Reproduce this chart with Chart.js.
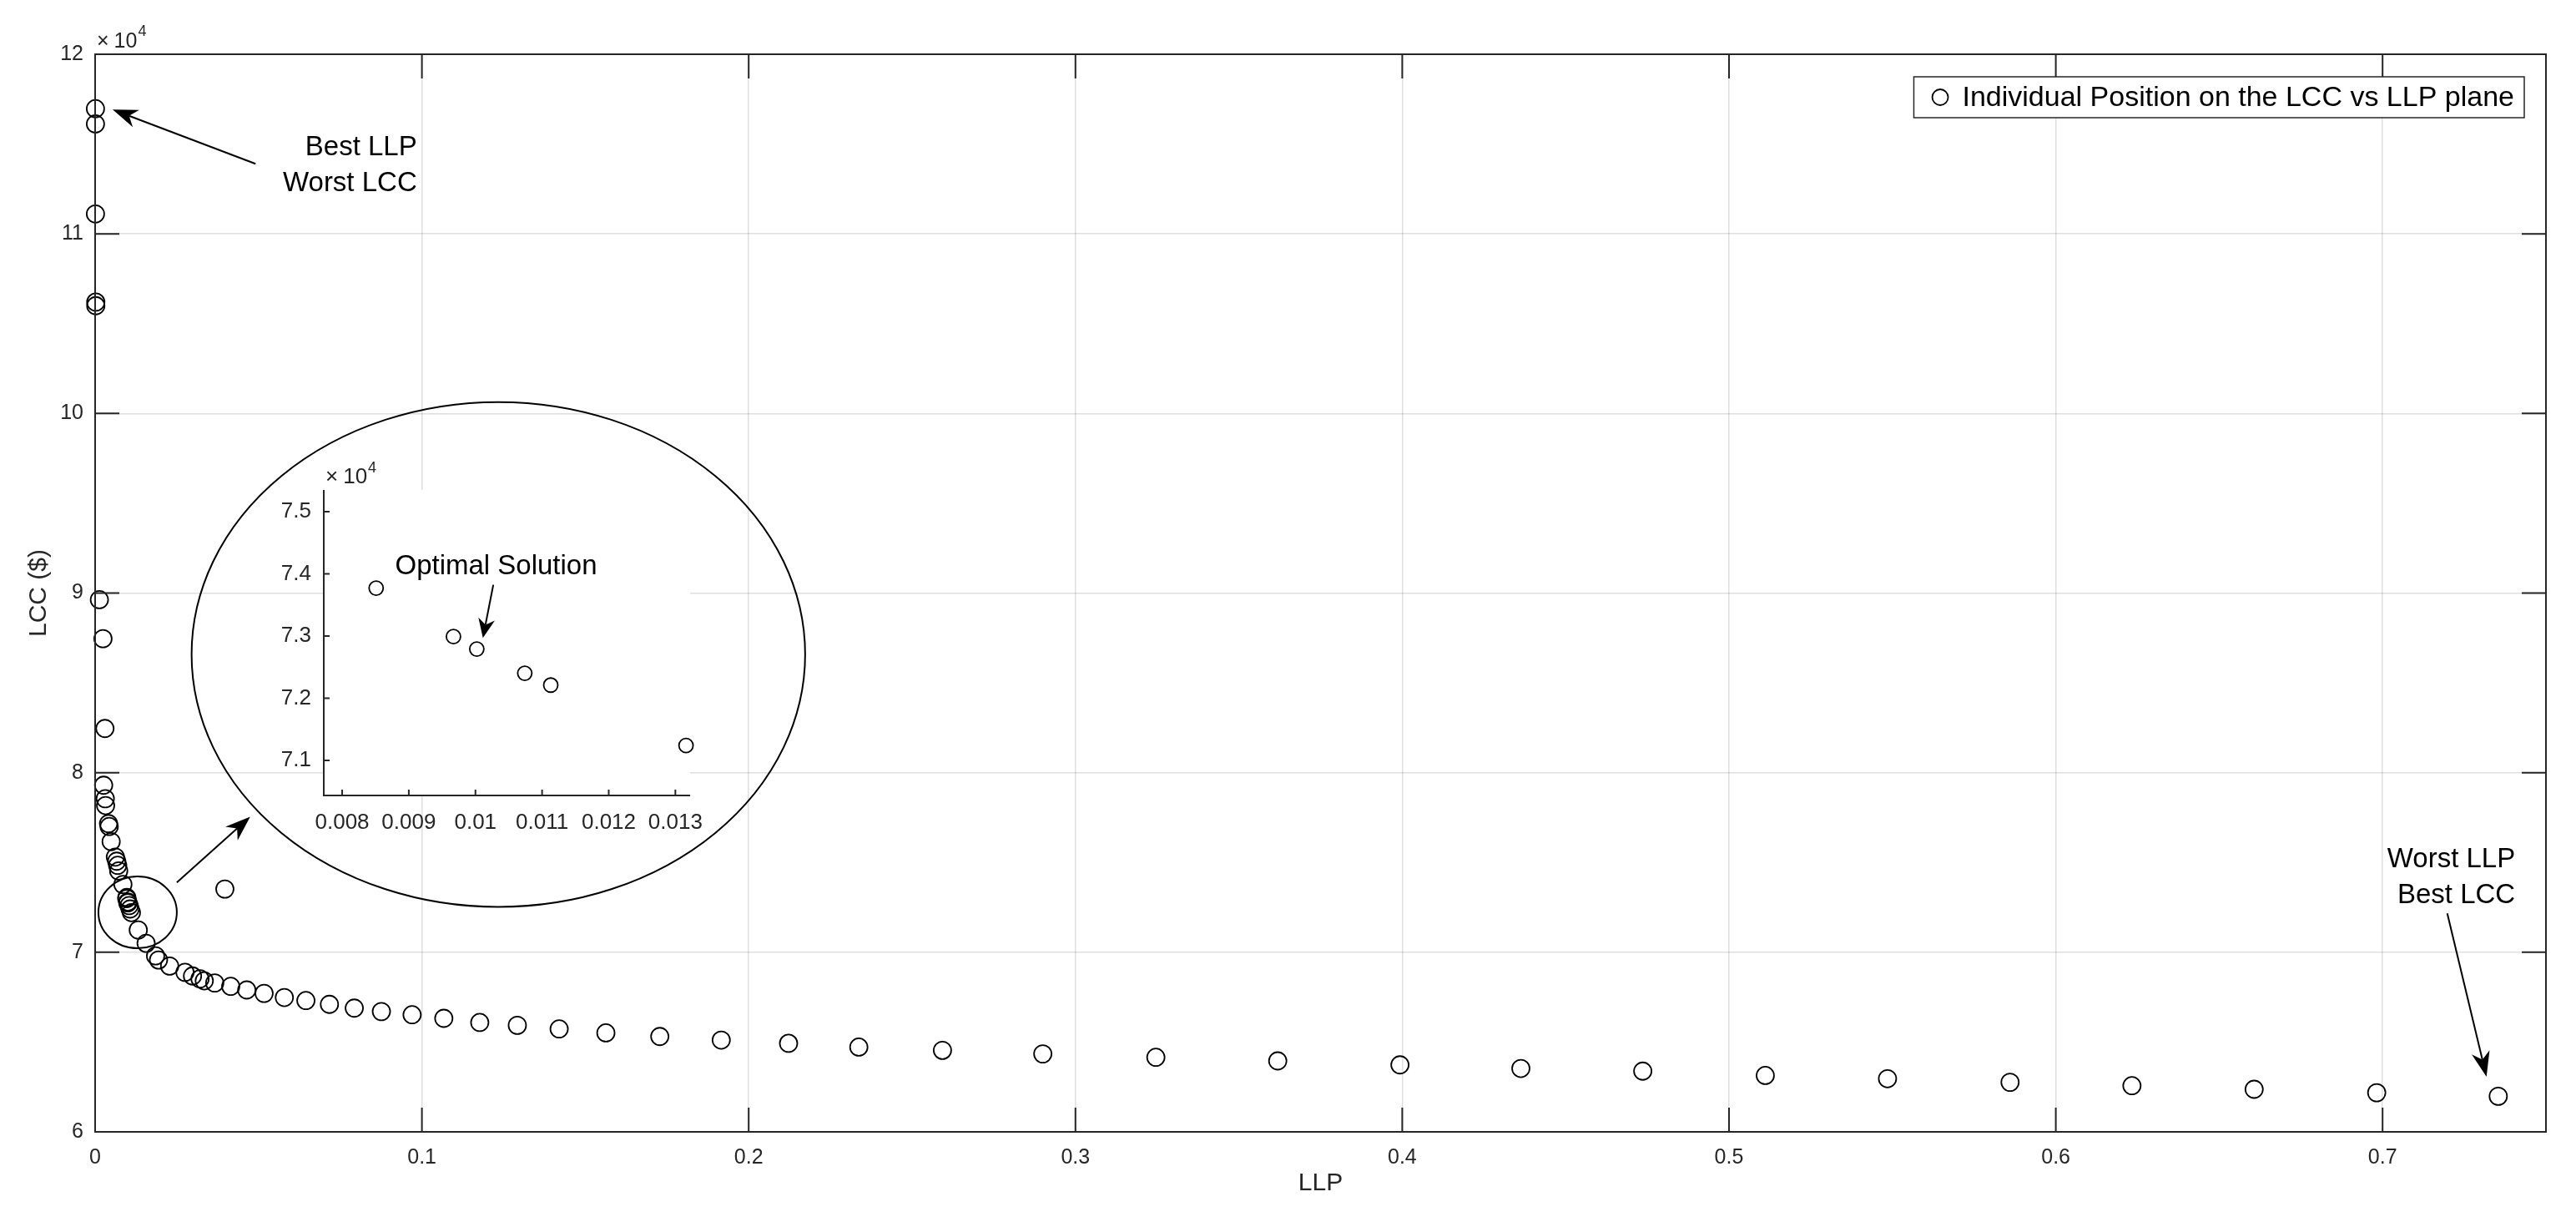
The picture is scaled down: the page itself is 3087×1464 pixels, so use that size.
<!DOCTYPE html>
<html>
<head>
<meta charset="utf-8">
<script src="https://cdn.jsdelivr.net/npm/chart.js@4.4.0/dist/chart.umd.min.js"></script>
<style>
  html, body { margin: 0; padding: 0; background: #fff; }
  #wrap { position: relative; width: 3087px; height: 1464px; }
  #main { position: absolute; left: 0; top: 0; }
  #inset { position: absolute; left: 300px; top: 520px; }
</style>
</head>
<body>
<div id="wrap">
  <canvas id="main" width="3087" height="1464"></canvas>
  <canvas id="inset" width="560" height="480"></canvas>
</div>
<script>
// every individual of the population: LLP and LCC ($)
const llp = [
  0.0001, 0.0001, 0.0001, 0.0002, 0.0002,
  0.0013, 0.0024, 0.0030,
  0.0026, 0.0031, 0.0032, 0.0041, 0.0043, 0.0049,
  0.0062, 0.0066, 0.0069, 0.0072,
  0.0085, 0.0097, 0.0100, 0.0107, 0.0111, 0.0097, 0.0100, 0.0104, 0.0132,
  0.0156, 0.0185, 0.0194, 0.0228, 0.0275, 0.0298, 0.0321, 0.0334, 0.0366, 0.0397,
  0.0415, 0.0464, 0.0517, 0.0579, 0.0645, 0.0717, 0.0793, 0.0876, 0.0970, 0.1067,
  0.1177, 0.1292, 0.1420, 0.1563, 0.1728, 0.1916, 0.2122, 0.2337, 0.2593, 0.2900,
  0.3246, 0.3619, 0.3993, 0.4363, 0.4736, 0.5111, 0.5485, 0.5860, 0.6233, 0.6607, 0.6982, 0.7354
];
const lcc = [
  116970, 116120, 111110, 106200, 106000,
  89630, 87460, 82460,
  79300, 78550, 78170, 77160, 77000, 76160,
  75300, 75070, 74840, 74530,
  73775, 72990, 72800, 72410, 72210, 73050, 72750, 72600, 71240,
  70500, 69800, 69570, 69230, 68880, 68680, 68520, 68410, 68290, 73520,
  68100, 67900, 67710, 67480, 67310, 67100, 66890, 66700, 66520, 66320,
  66090, 65930, 65730, 65510, 65310, 65110, 64930, 64720, 64540, 64340,
  64150, 63950, 63730, 63530, 63380, 63140, 62960, 62760, 62570, 62370, 62180, 61980
];

// zoomed view around the optimal solution
const insetLlp = [0.00851, 0.00967, 0.01002, 0.01074, 0.01113, 0.01316];
const insetLcc = [73770, 72990, 72790, 72400, 72210, 71240];

const xTickVals = [0, 0.1, 0.2, 0.3, 0.4, 0.5, 0.6, 0.7];
const xTickLabels = ['0', '0.1', '0.2', '0.3', '0.4', '0.5', '0.6', '0.7'];
const yTickVals = [60000, 70000, 80000, 90000, 100000, 110000, 120000];
const yTickLabels = ['6', '7', '8', '9', '10', '11', '12'];
const insetXTickVals = [0.008, 0.009, 0.010, 0.011, 0.012, 0.013];
const insetXTickLabels = ['0.008', '0.009', '0.01', '0.011', '0.012', '0.013'];
const insetYTickVals = [71000, 72000, 73000, 74000, 75000];
const insetYTickLabels = ['7.1', '7.2', '7.3', '7.4', '7.5'];

const seriesLabel = 'Individual Position on the LCC vs LLP plane';

const INK = '#262626';
const GRID = 'rgba(38,38,38,0.15)';
const FONT = '"Liberation Sans", Arial, Helvetica, sans-serif';

// annotation anchors, in data units
const mainNotes = {
  texts: [
    { text: 'Best LLP', x: 0.0985, y: 114790 },
    { text: 'Worst LCC', x: 0.0985, y: 112790 },
    { text: 'Worst LLP', x: 0.7406, y: 75150 },
    { text: 'Best LCC', x: 0.7406, y: 73140 }
  ],
  arrows: [
    { from: [0.0491, 113900], to: [0.00536, 116920] },
    { from: [0.0250, 73890], to: [0.04745, 77540] },
    { from: [0.7198, 72170], to: [0.7318, 63070] }
  ],
  ellipses: [
    { cx: 0.1234, cy: 86580, rx: 0.09388, ry: 14057 },
    { cx: 0.0130, cy: 72220, rx: 0.0120, ry: 1998 }
  ]
};
const insetNotes = {
  text: { text: 'Optimal Solution', x: 0.010310, y: 74111 },
  arrow: { from: [0.010268, 73822], to: [0.010112, 72969] }
};

function drawArrow(ctx, x0, y0, x1, y1, len, half) {
  const a = Math.atan2(y1 - y0, x1 - x0);
  const c = Math.cos(a), s = Math.sin(a);
  const notch = len * 0.3;
  ctx.beginPath();
  ctx.moveTo(x0, y0);
  ctx.lineTo(x1 - c * (len - notch), y1 - s * (len - notch));
  ctx.stroke();
  const bx = x1 - c * len, by = y1 - s * len;
  ctx.beginPath();
  ctx.moveTo(x1, y1);
  ctx.lineTo(bx - s * half, by + c * half);
  ctx.lineTo(x1 - c * (len - notch), y1 - s * (len - notch));
  ctx.lineTo(bx + s * half, by - c * half);
  ctx.closePath();
  ctx.fill();
}

function drawExponent(ctx, left, top, size, dy, supDy) {
  ctx.save();
  ctx.fillStyle = INK;
  ctx.textAlign = 'left';
  ctx.textBaseline = 'alphabetic';
  ctx.font = `${size}px ${FONT}`;
  let cx = left + 2;
  ctx.fillText('\u00d7', cx, top - dy);
  cx += ctx.measureText('\u00d7').width + 6;
  ctx.fillText('10', cx, top - dy);
  cx += ctx.measureText('10').width + 1;
  ctx.font = `${Math.round(size * 0.7)}px ${FONT}`;
  ctx.fillText('4', cx, top - supDy);
  ctx.restore();
}

// MATLAB-like frame: inward ticks, full box or left/bottom only
function frame(len, box) {
  return {
    id: 'frame',
    afterDatasetsDraw(chart) {
      const { ctx, chartArea: a, scales: { x, y } } = chart;
      ctx.save();
      ctx.strokeStyle = INK;
      ctx.lineWidth = 2;
      ctx.beginPath();
      x.ticks.forEach(t => {
        const px = x.getPixelForValue(t.value);
        ctx.moveTo(px, a.bottom); ctx.lineTo(px, a.bottom - len);
        if (box) { ctx.moveTo(px, a.top); ctx.lineTo(px, a.top + len); }
      });
      y.ticks.forEach(t => {
        const py = y.getPixelForValue(t.value);
        ctx.moveTo(a.left, py); ctx.lineTo(a.left + len, py);
        if (box) { ctx.moveTo(a.right, py); ctx.lineTo(a.right - len, py); }
      });
      ctx.stroke();
      ctx.beginPath();
      if (box) {
        ctx.rect(a.left, a.top, a.right - a.left, a.bottom - a.top);
      } else {
        ctx.moveTo(a.left, a.top); ctx.lineTo(a.left, a.bottom); ctx.lineTo(a.right, a.bottom);
      }
      ctx.stroke();
      ctx.restore();
    }
  };
}

const mainNotesPlugin = {
  id: 'mainNotes',
  afterDraw(chart) {
    const { ctx, chartArea: a, scales: { x, y } } = chart;
    ctx.save();
    ctx.strokeStyle = '#000';
    ctx.fillStyle = '#000';
    ctx.lineWidth = 2;
    mainNotes.ellipses.forEach(e => {
      const px = x.getPixelForValue(e.cx), py = y.getPixelForValue(e.cy);
      const rx = x.getPixelForValue(e.cx + e.rx) - px;
      const ry = py - y.getPixelForValue(e.cy + e.ry);
      ctx.beginPath();
      ctx.ellipse(px, py, rx, ry, 0, 0, Math.PI * 2);
      ctx.stroke();
    });
    mainNotes.arrows.forEach(r => {
      drawArrow(ctx, x.getPixelForValue(r.from[0]), y.getPixelForValue(r.from[1]),
        x.getPixelForValue(r.to[0]), y.getPixelForValue(r.to[1]), 30, 11);
    });
    ctx.font = `33px ${FONT}`;
    ctx.textAlign = 'right';
    ctx.textBaseline = 'middle';
    mainNotes.texts.forEach(t => {
      ctx.fillText(t.text, x.getPixelForValue(t.x), y.getPixelForValue(t.y));
    });

    // legend
    ctx.font = `34px ${FONT}`;
    const tw = ctx.measureText(seriesLabel).width;
    const h = 49, w = 58 + tw + 12;
    const right = a.right - 26, top = a.top + 27, left = right - w;
    ctx.fillStyle = '#fff';
    ctx.fillRect(left, top, w, h);
    ctx.strokeStyle = INK;
    ctx.lineWidth = 1.5;
    ctx.strokeRect(left, top, w, h);
    ctx.strokeStyle = '#000';
    ctx.lineWidth = 1.8;
    ctx.beginPath();
    ctx.arc(left + 31.6, top + h / 2, 9.5, 0, Math.PI * 2);
    ctx.stroke();
    ctx.fillStyle = '#000';
    ctx.textAlign = 'left';
    ctx.fillText(seriesLabel, left + 58, top + h / 2 + 1);
    ctx.restore();

    drawExponent(ctx, a.left, a.top, 25, 8, 22);
  }
};

const insetNotesPlugin = {
  id: 'insetNotes',
  beforeDatasetsDraw(chart) {
    const { ctx, chartArea: a } = chart;
    ctx.save();
    ctx.fillStyle = '#fff';
    ctx.fillRect(a.left, a.top, a.right - a.left, a.bottom - a.top);
    ctx.restore();
  },
  afterDraw(chart) {
    const { ctx, chartArea: a, scales: { x, y } } = chart;
    ctx.save();
    ctx.strokeStyle = '#000';
    ctx.fillStyle = '#000';
    ctx.lineWidth = 2;
    const r = insetNotes.arrow;
    drawArrow(ctx, x.getPixelForValue(r.from[0]), y.getPixelForValue(r.from[1]),
      x.getPixelForValue(r.to[0]), y.getPixelForValue(r.to[1]), 23, 10);
    ctx.font = `33px ${FONT}`;
    ctx.textAlign = 'center';
    ctx.textBaseline = 'middle';
    const t = insetNotes.text;
    ctx.fillText(t.text, x.getPixelForValue(t.x), y.getPixelForValue(t.y));
    ctx.restore();
    drawExponent(ctx, a.left, a.top, 26, 8, 21);
  }
};

function axis(opts) {
  const first = opts.vals[0];
  return {
    type: 'linear',
    min: opts.min,
    max: opts.max,
    afterBuildTicks: s => { s.ticks = opts.vals.map(v => ({ value: v })); },
    afterFit: opts.fit,
    ticks: {
      color: INK,
      font: { family: FONT, size: opts.size },
      padding: opts.pad,
      maxRotation: 0,
      autoSkip: false,
      callback: (v, i) => opts.labels[i]
    },
    grid: {
      display: opts.grid,
      drawTicks: false,
      // the lines on the frame itself are drawn by the frame plugin
      color: c => (c.tick && (c.tick.value === first || c.tick.value === opts.max)) ? 'rgba(0,0,0,0)' : GRID,
      lineWidth: 1.5
    },
    border: { display: false },
    title: opts.title ? {
      display: true,
      text: opts.title,
      color: INK,
      font: { family: FONT, size: 30 },
      padding: opts.titlePad
    } : { display: false }
  };
}

new Chart(document.getElementById('main'), {
  type: 'scatter',
  data: {
    datasets: [{
      label: seriesLabel,
      data: llp.map((v, i) => ({ x: v, y: lcc[i] })),
      pointStyle: 'circle',
      pointRadius: 10.5,
      borderColor: '#000',
      backgroundColor: 'rgba(0,0,0,0)',
      borderWidth: 1.8,
      clip: false
    }]
  },
  options: {
    responsive: false,
    animation: false,
    devicePixelRatio: 1,
    layout: { padding: { left: 0, top: 65, right: 36, bottom: 0 } },
    plugins: { legend: { display: false }, tooltip: { enabled: false } },
    scales: {
      x: axis({ min: 0, max: 0.75, vals: xTickVals, labels: xTickLabels, size: 25, pad: 16, grid: true,
        fit: s => { s.height = 108; }, title: 'LLP', titlePad: { top: 0, bottom: 28 } }),
      y: axis({ min: 60000, max: 120000, vals: yTickVals, labels: yTickLabels, size: 25, pad: 14, grid: true,
        fit: s => { s.width = 114; }, title: 'LCC ($)', titlePad: { top: 29, bottom: 0 } })
    }
  },
  plugins: [frame(29, true), mainNotesPlugin]
});

new Chart(document.getElementById('inset'), {
  type: 'scatter',
  data: {
    datasets: [{
      label: seriesLabel,
      data: insetLlp.map((v, i) => ({ x: v, y: insetLcc[i] })),
      pointStyle: 'circle',
      pointRadius: 8.5,
      borderColor: '#000',
      backgroundColor: 'rgba(0,0,0,0)',
      borderWidth: 1.8,
      clip: false
    }]
  },
  options: {
    responsive: false,
    animation: false,
    devicePixelRatio: 1,
    layout: { padding: { left: 0, top: 67, right: 28, bottom: 0 } },
    plugins: { legend: { display: false }, tooltip: { enabled: false } },
    scales: {
      x: axis({ min: 0.007724, max: 0.013222, vals: insetXTickVals, labels: insetXTickLabels, size: 26, pad: 17, grid: false,
        fit: s => { s.height = 47; } }),
      y: axis({ min: 70435, max: 75348, vals: insetYTickVals, labels: insetYTickLabels, size: 26, pad: 15, grid: false,
        fit: s => { s.width = 88; } })
    }
  },
  plugins: [frame(7, false), insetNotesPlugin]
});
</script>
</body>
</html>
